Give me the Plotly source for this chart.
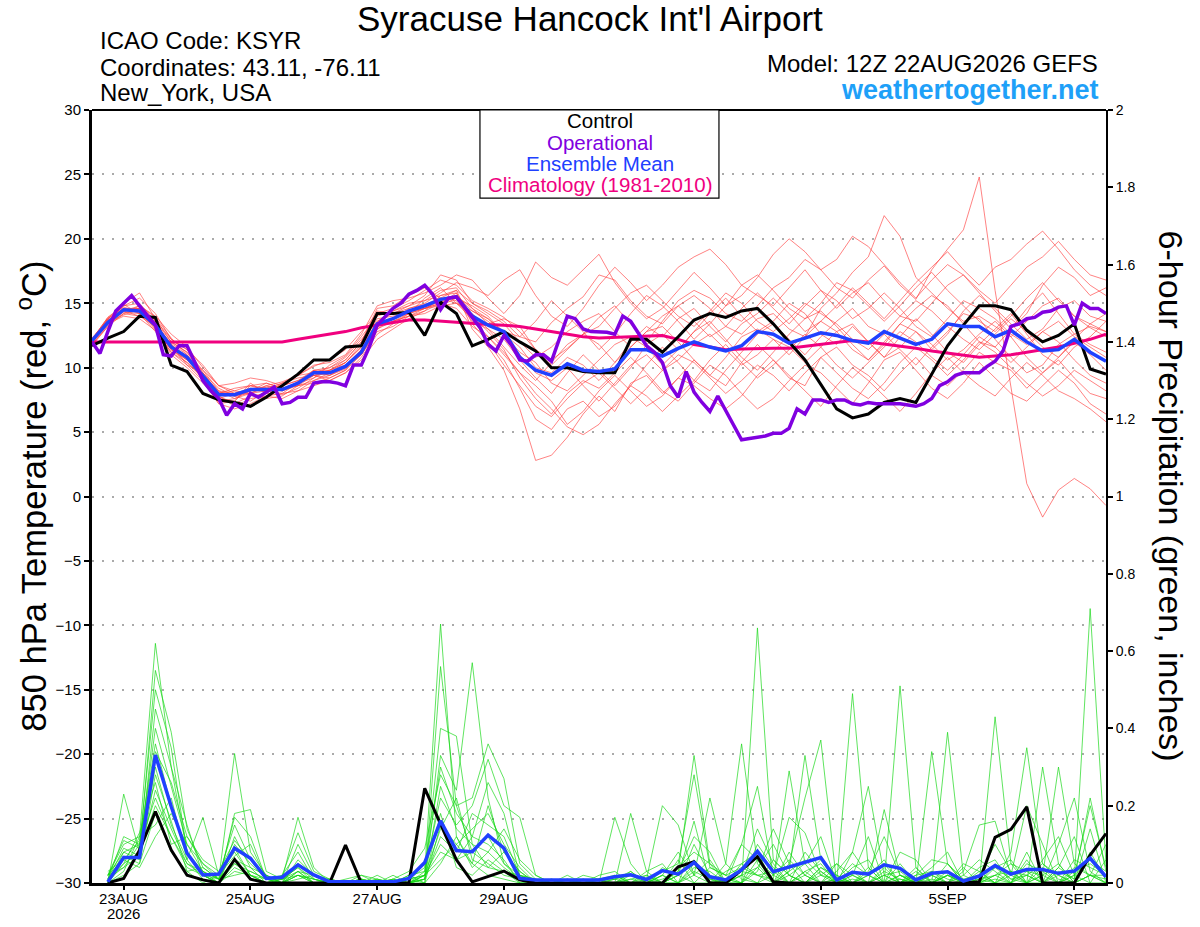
import pandas as pd
import plotly.graph_objects as go

# 6-hourly ensemble output, 3-hourly operational run
times = pd.date_range("2026-08-22 12:00", periods=65, freq="6h")
times_op = pd.date_range("2026-08-22 12:00", periods=129, freq="3h")
times_pcp = times[1:]

tick_dates = ["2026-08-23", "2026-08-25", "2026-08-27", "2026-08-29",
              "2026-09-01", "2026-09-03", "2026-09-05", "2026-09-07"]
tick_labels = ["23AUG", "25AUG", "27AUG", "29AUG", "1SEP", "3SEP", "5SEP", "7SEP"]
first_year = "2026"

temp_ticks = list(range(-30, 31, 5))
pcp_ticks = [0, 0.2, 0.4, 0.6, 0.8, 1.0, 1.2, 1.4, 1.6, 1.8, 2.0]
pcp_tick_labels = ["0", "0.2", "0.4", "0.6", "0.8", "1", "1.2", "1.4", "1.6", "1.8", "2"]

# 850 hPa temperature (C)
t_control = [11.7, 12.3, 12.8, 14.0, 13.9, 10.2, 9.7, 8.0,
             7.5, 7.3, 7.0, 7.7, 8.6, 9.5, 10.6, 10.6,
             11.6, 11.7, 14.2, 14.2, 14.3, 12.5, 15.1, 14.2,
             11.7, 12.2, 12.8, 12.0, 11.3, 10.0, 10.0, 9.7,
             9.6, 9.6, 12.2, 12.2, 11.2, 12.4, 13.7, 14.2,
             13.9, 14.4, 14.6, 13.4, 12.0, 10.6, 8.7, 6.8,
             6.1, 6.4, 7.3, 7.6, 7.3, 9.5, 11.7, 13.3,
             14.8, 14.8, 14.5, 12.9, 12.0, 12.5, 13.4, 9.9,
             9.5]

t_mean = [12.1, 13.5, 14.5, 14.4, 13.3, 11.6, 10.8, 9.4,
          7.9, 7.9, 8.3, 8.3, 8.3, 8.8, 9.6, 9.6,
          10.1, 11.2, 13.4, 13.8, 14.4, 14.8, 15.3, 15.5,
          14.0, 13.3, 12.8, 10.8, 9.8, 9.4, 10.3, 9.8,
          9.7, 9.9, 11.4, 11.4, 10.9, 11.5, 12.0, 11.6,
          11.3, 11.7, 12.8, 12.6, 11.9, 12.3, 12.7, 12.5,
          12.1, 11.9, 12.8, 12.3, 11.8, 12.2, 13.4, 13.2,
          13.2, 12.4, 12.9, 12.0, 11.3, 11.4, 12.2, 11.2,
          10.5]

t_clim = [12.0, 12.0, 12.0, 12.0, 12.0, 12.0, 12.0, 12.0,
          12.0, 12.0, 12.0, 12.0, 12.0, 12.2, 12.4, 12.6,
          12.8, 13.1, 13.3, 13.5, 13.7, 13.7, 13.6, 13.5,
          13.4, 13.35, 13.3, 13.2, 13.0, 12.8, 12.6, 12.4,
          12.3, 12.35, 12.4, 12.45, 12.5, 12.2, 11.8, 11.6,
          11.4, 11.45, 11.5, 11.5, 11.5, 11.65, 11.8, 12.0,
          12.1, 12.0, 11.85, 11.7, 11.5, 11.3, 11.15, 11.0,
          10.8, 10.9, 11.0, 11.2, 11.4, 11.6, 11.9, 12.2,
          12.6]

t_oper = [12.0, 11.1, 12.8, 14.4, 15.0, 15.6, 14.8, 14.0,
          13.3, 11.0, 10.9, 11.7, 11.7, 10.4, 9.0, 8.2,
          7.6, 6.3, 7.2, 6.8, 8.0, 7.7, 8.1, 8.5,
          7.2, 7.3, 7.7, 7.7, 8.8, 8.9, 8.9, 8.8,
          8.6, 10.2, 10.2, 11.6, 13.3, 14.0, 14.6, 15.0,
          15.7, 16.0, 16.4, 15.7, 14.5, 15.4, 15.5, 14.7,
          13.9, 13.1, 11.8, 11.3, 12.5, 11.7, 10.6, 10.5,
          11.0, 11.0, 10.5, 12.2, 14.0, 13.8, 13.0, 12.8,
          12.8, 12.75, 12.6, 14.0, 13.6, 12.6, 11.7, 11.2,
          10.4, 8.6, 7.7, 9.7, 8.1, 7.3, 6.6, 7.8,
          6.7, 5.5, 4.4, 4.5, 4.6, 4.7, 4.9, 4.9,
          5.3, 6.8, 6.4, 7.5, 7.5, 7.3, 7.5, 7.5,
          7.2, 7.1, 7.3, 7.2, 7.2, 7.2, 7.2, 7.1,
          7.0, 7.2, 7.6, 8.6, 8.9, 9.4, 9.6, 9.6,
          9.6, 10.1, 10.5, 11.3, 13.2, 13.4, 13.8, 13.9,
          14.3, 14.4, 14.7, 14.8, 13.3, 15.0, 14.6, 14.6,
          14.2]

# ensemble members (temperature)
t_m01 = [12.0, 13.5, 15.0, 15.8, 13.8, 12.0, 11.2, 9.8,
         8.2, 7.6, 8.0, 8.6, 8.9, 9.4, 10.1, 10.6,
         11.4, 12.8, 14.2, 14.6, 15.2, 16.0, 16.8, 16.4,
         15.2, 14.6, 13.9, 12.8, 11.4, 10.6, 11.5, 12.6,
         13.9, 14.8, 13.4, 12.0, 13.6, 15.2, 16.0, 15.4,
         14.2, 13.6, 14.8, 16.2, 17.0, 18.4, 17.6, 16.2,
         15.4, 16.8, 17.9, 16.4, 15.3, 17.6, 19.2, 20.7,
         24.8, 16.0, 8.5, 1.0, -1.6, 0.5, 1.4, 0.6,
         -0.7]
t_m02 = [11.8, 13.2, 14.2, 14.8, 13.9, 12.3, 11.0, 9.0,
         7.2, 7.4, 8.8, 8.0, 7.9, 8.4, 9.2, 10.2,
         10.9, 12.4, 14.0, 14.4, 14.8, 15.6, 17.2, 16.8,
         15.0, 14.4, 13.6, 12.4, 12.0, 13.5, 14.6, 15.5,
         17.2, 16.8, 15.2, 14.0, 13.4, 14.8, 15.6, 14.6,
         13.2, 12.6, 13.8, 14.2, 13.0, 12.4, 14.6, 15.8,
         17.4, 18.6, 21.8, 20.2, 17.0, 15.8, 14.6, 13.6,
         14.0, 13.2, 12.4, 13.6, 14.8, 15.4, 14.0, 13.1,
         12.4]
t_m03 = [12.2, 13.9, 14.9, 14.2, 12.8, 11.2, 10.4, 9.2,
         7.8, 7.0, 7.6, 7.8, 7.6, 8.2, 9.0, 9.4,
         10.2, 11.4, 13.2, 13.6, 14.0, 14.6, 15.0, 15.8,
         13.0, 11.6, 9.8, 6.8, 2.8, 3.2, 4.6, 6.4,
         7.8, 6.6, 8.8, 9.4, 8.0, 9.2, 10.6, 9.4,
         8.6, 10.4, 11.8, 10.6, 9.2, 8.6, 10.8, 11.6,
         10.2, 9.4, 8.2, 9.6, 10.8, 9.4, 8.6, 9.8,
         11.2, 10.4, 9.8, 8.4, 9.6, 10.6, 9.2, 8.0,
         7.6]
t_m04 = [11.9, 13.6, 14.4, 14.0, 13.4, 11.8, 10.2, 9.6,
         8.4, 7.8, 7.4, 8.2, 8.6, 9.0, 9.4, 9.0,
         9.6, 10.8, 12.6, 13.4, 14.2, 15.4, 16.2, 15.0,
         13.8, 12.0, 10.6, 8.4, 6.0, 5.2, 6.8, 7.4,
         6.2, 7.0, 8.6, 10.2, 11.6, 10.4, 9.0, 8.2,
         9.8, 11.2, 12.6, 13.4, 12.2, 11.0, 12.4, 13.6,
         14.6, 13.2, 12.6, 11.4, 10.2, 11.6, 12.8, 14.2,
         13.8, 12.2, 10.8, 9.6, 10.2, 11.8, 12.6, 13.2,
         12.8]
t_m05 = [12.0, 13.8, 14.8, 15.4, 14.2, 12.2, 11.4, 9.6,
         8.0, 8.4, 8.6, 8.4, 8.2, 8.6, 9.8, 10.0,
         10.6, 12.0, 14.4, 14.2, 14.6, 15.0, 15.8, 16.6,
         16.2, 15.6, 16.8, 17.6, 15.6, 14.0, 13.2, 14.6,
         16.4, 17.8, 16.6, 15.2, 16.4, 17.8, 18.6, 19.2,
         18.0, 16.4, 15.6, 14.8, 16.2, 17.6, 16.0, 14.6,
         15.8, 16.6, 15.2, 14.0, 13.6, 15.0, 16.4, 17.2,
         15.8, 14.4, 13.0, 14.2, 16.4, 17.8, 17.0, 15.6,
         16.2]
t_m06 = [12.1, 13.4, 14.0, 13.8, 12.9, 11.4, 10.6, 9.8,
         8.6, 8.2, 8.0, 7.6, 7.8, 8.6, 8.8, 9.2,
         9.8, 11.0, 12.8, 13.2, 14.0, 14.2, 14.8, 15.0,
         14.4, 13.8, 12.6, 11.2, 10.4, 8.8, 8.2, 9.4,
         10.6, 11.8, 12.4, 11.6, 10.2, 11.4, 12.8, 13.6,
         12.2, 10.8, 9.8, 11.2, 12.6, 13.8, 14.4, 13.2,
         11.8, 10.6, 11.8, 13.4, 14.6, 15.6, 14.8, 13.4,
         12.0, 11.6, 13.0, 14.6, 15.8, 14.2, 12.6, 11.8,
         11.2]
t_m07 = [12.3, 13.7, 14.5, 14.6, 13.1, 11.0, 10.0, 8.8,
         7.4, 7.6, 8.2, 8.8, 8.4, 8.8, 9.6, 9.8,
         10.4, 11.6, 13.6, 14.4, 15.0, 15.2, 15.6, 15.8,
         14.0, 12.8, 11.4, 9.2, 7.6, 6.4, 8.0, 9.0,
         8.4, 9.6, 10.8, 9.6, 8.2, 7.4, 8.8, 10.2,
         9.4, 8.0, 6.8, 7.6, 9.0, 10.2, 9.6, 8.4,
         7.2, 8.8, 10.6, 11.2, 9.8, 8.4, 7.6, 8.8,
         10.4, 9.2, 8.0, 7.4, 8.6, 9.8, 8.8, 7.2,
         6.4]
t_m08 = [12.0, 13.6, 14.3, 14.2, 13.6, 12.0, 11.2, 9.4,
         7.8, 7.2, 7.8, 8.0, 8.8, 9.2, 9.4, 9.2,
         9.8, 11.4, 13.4, 13.8, 14.6, 14.9, 15.4, 15.2,
         13.6, 13.0, 12.2, 10.6, 9.2, 8.0, 9.6, 11.0,
         9.8, 8.6, 10.0, 11.8, 12.6, 11.4, 12.8, 14.2,
         15.4, 14.0, 12.8, 13.6, 15.0, 14.2, 12.6, 11.8,
         13.2, 12.0, 10.8, 12.4, 13.8, 12.6, 11.2, 10.4,
         11.8, 13.0, 14.2, 12.6, 11.0, 10.2, 11.6, 12.4,
         13.6]
t_m09 = [11.7, 13.2, 14.4, 14.8, 14.0, 12.6, 11.6, 10.0,
         8.6, 8.8, 9.2, 9.0, 8.6, 9.4, 10.2, 10.4,
         11.0, 12.6, 14.8, 15.2, 15.4, 15.8, 16.4, 17.2,
         16.8, 15.4, 14.2, 15.6, 18.2, 17.0, 16.4, 17.6,
         18.8, 16.6, 15.0, 13.8, 14.6, 16.0, 17.4, 16.2,
         14.8, 15.6, 17.0, 18.8, 20.0, 19.0, 17.6, 18.4,
         20.2, 19.4, 18.0, 16.6, 15.4, 16.8, 18.0, 17.2,
         16.0, 15.0, 16.4, 17.8, 18.6, 19.8, 18.4, 17.2,
         16.8]
t_m10 = [12.2, 13.9, 14.7, 14.3, 13.0, 11.4, 10.4, 9.2,
         7.6, 8.0, 8.4, 8.4, 8.2, 8.9, 9.8, 9.8,
         10.2, 11.0, 13.0, 13.8, 14.4, 14.6, 15.2, 15.6,
         14.6, 13.4, 13.8, 13.2, 11.4, 10.2, 11.4, 12.6,
         11.8, 10.4, 11.6, 12.8, 13.2, 12.0, 10.6, 9.4,
         10.8, 12.4, 13.0, 12.2, 11.0, 12.4, 13.6, 12.8,
         11.4, 10.6, 12.0, 13.4, 12.8, 11.4, 12.6, 14.4,
         15.6, 14.6, 13.4, 12.2, 13.0, 14.6, 15.2, 14.0,
         13.6]
t_m11 = [11.9, 13.4, 14.2, 14.0, 13.2, 11.6, 10.8, 9.0,
         7.2, 6.8, 7.2, 7.8, 8.0, 8.2, 8.6, 9.0,
         9.6, 10.6, 12.2, 13.0, 13.8, 14.4, 15.0, 14.6,
         13.2, 12.4, 11.0, 9.6, 8.6, 7.4, 5.6, 6.6,
         8.2, 9.4, 8.2, 7.0, 7.8, 9.2, 8.6, 7.6,
         6.8, 7.8, 9.4, 10.6, 9.4, 8.2, 7.0, 8.6,
         10.0, 9.0, 7.8, 6.6, 8.0, 9.6, 10.8, 9.6,
         8.6, 7.8, 9.2, 10.4, 9.4, 8.2, 7.6, 6.8,
         5.8]
t_m12 = [12.1, 13.8, 14.6, 14.6, 13.5, 11.8, 10.8, 9.4,
         8.0, 8.2, 8.6, 8.8, 8.4, 8.6, 9.0, 9.6,
         10.4, 11.8, 13.8, 14.0, 14.2, 14.8, 15.4, 16.0,
         15.0, 14.2, 13.4, 12.0, 10.8, 11.6, 12.8, 13.6,
         14.2, 12.8, 11.6, 12.8, 14.0, 14.8, 13.6, 12.4,
         13.2, 14.6, 15.8, 14.6, 13.4, 14.8, 16.0, 15.2,
         13.8, 14.6, 15.8, 14.6, 13.2, 12.4, 13.8, 15.2,
         14.6, 13.8, 12.6, 11.8, 12.8, 13.6, 12.4, 11.6,
         10.8]
t_m13 = [12.0, 13.6, 14.5, 14.4, 13.3, 11.9, 11.0, 9.6,
         8.1, 7.8, 8.0, 8.5, 8.6, 9.0, 9.8, 9.4,
         9.9, 11.2, 13.2, 13.6, 14.2, 14.6, 15.0, 15.6,
         14.4, 13.6, 12.6, 11.0, 9.6, 9.0, 10.0, 8.6,
         7.4, 8.8, 10.2, 11.0, 9.8, 10.6, 11.8, 12.6,
         11.4, 10.2, 11.0, 12.2, 11.6, 10.4, 11.6, 12.8,
         13.4, 12.0, 10.8, 11.6, 12.8, 11.8, 10.6, 11.4,
         12.6, 13.6, 12.4, 10.8, 9.6, 10.8, 12.0, 11.0,
         9.8]
t_m14 = [12.2, 13.5, 14.1, 14.5, 13.7, 12.2, 11.4, 10.2,
         8.6, 8.0, 8.2, 8.4, 8.8, 9.4, 9.6, 10.0,
         10.8, 12.2, 13.6, 14.2, 14.8, 15.2, 16.0, 16.2,
         14.6, 13.8, 12.8, 12.4, 13.6, 15.2, 14.0, 12.8,
         11.4, 12.6, 14.2, 15.6, 14.8, 13.6, 12.2, 13.4,
         14.8, 16.4, 17.2, 16.0, 14.6, 13.8, 15.0, 16.6,
         16.0, 14.8, 13.6, 14.8, 16.2, 17.4, 16.0, 14.8,
         13.6, 12.8, 14.0, 15.4, 16.6, 15.2, 14.0, 13.4,
         14.2]
t_m15 = [12.1, 13.6, 14.8, 15.0, 13.6, 11.6, 10.6, 9.2,
         7.6, 7.4, 8.6, 8.2, 8.0, 8.8, 9.2, 9.8,
         10.6, 12.0, 14.6, 14.8, 15.6, 16.2, 15.4, 15.0,
         14.2, 13.0, 11.6, 10.2, 9.0, 10.4, 11.8, 12.6,
         13.2, 14.6, 15.8, 16.4, 15.2, 14.0, 13.2, 14.4,
         15.8, 15.0, 13.6, 12.8, 13.8, 15.0, 14.2, 13.4,
         12.2, 11.4, 12.6, 14.0, 15.2, 14.4, 13.2, 12.2,
         11.4, 12.6, 13.8, 12.8, 11.6, 10.8, 12.2, 13.4,
         12.8]
t_m16 = [11.8, 13.3, 14.6, 14.4, 13.0, 11.2, 10.2, 9.0,
         7.8, 8.0, 8.2, 8.6, 8.2, 8.8, 9.4, 9.6,
         10.0, 11.0, 13.0, 13.6, 14.0, 14.4, 15.6, 16.0,
         13.4, 12.0, 10.2, 8.6, 7.0, 6.2, 7.6, 8.8,
         9.6, 8.4, 7.2, 8.4, 9.8, 11.0, 10.4, 9.2,
         8.0, 9.0, 10.2, 9.4, 8.2, 9.6, 10.8, 9.6,
         8.4, 7.6, 8.8, 10.4, 11.6, 10.6, 9.4, 10.6,
         12.0, 11.2, 10.0, 8.8, 7.8, 8.6, 9.8, 9.0,
         8.2]
t_m17 = [12.0, 13.7, 14.4, 14.6, 13.4, 11.7, 10.9, 9.5,
         8.0, 7.8, 8.2, 8.2, 8.4, 8.8, 9.6, 9.4,
         10.0, 11.4, 13.2, 13.8, 14.4, 14.6, 14.8, 15.4,
         14.8, 14.0, 12.6, 11.6, 10.0, 9.6, 10.8, 10.2,
         9.0, 10.4, 12.0, 13.2, 12.4, 13.8, 14.6, 13.2,
         12.0, 13.4, 14.2, 15.4, 14.2, 12.8, 13.6, 14.8,
         16.2, 15.0, 13.8, 15.2, 16.6, 17.8, 19.0, 17.6,
         16.4, 17.8, 18.4, 19.6, 20.6, 19.2, 17.6, 16.4,
         15.6]
t_m18 = [12.2, 13.8, 14.6, 14.2, 13.2, 11.4, 10.6, 9.4,
         8.2, 8.0, 8.0, 8.2, 8.4, 8.6, 9.4, 9.8,
         10.4, 11.6, 13.4, 13.8, 14.2, 14.6, 15.2, 15.4,
         13.8, 12.4, 11.2, 9.6, 8.0, 6.8, 5.4, 4.8,
         5.6, 7.2, 8.6, 7.8, 6.6, 7.8, 9.0, 10.6,
         11.8, 10.4, 9.2, 10.2, 11.4, 12.6, 11.6, 10.2,
         9.2, 10.4, 11.6, 12.8, 12.0, 10.8, 9.8, 11.0,
         12.4, 11.6, 10.4, 11.6, 12.8, 12.0, 10.6, 9.4,
         8.8]
temp_members = [t_m01, t_m02, t_m03, t_m04, t_m05, t_m06, t_m07, t_m08, t_m09,
                t_m10, t_m11, t_m12, t_m13, t_m14, t_m15, t_m16, t_m17, t_m18]

# 6-hour precipitation (inches), starting at the first 6 h step
p_control = [0.0, 0.012, 0.085, 0.185, 0.085, 0.02, 0.008, 0.0,
             0.061, 0.01, 0.0, 0.0, 0.0, 0.0, 0.0, 0.098,
             0.0, 0.0, 0.0, 0.0, 0.245, 0.154, 0.06, 0.003,
             0.016, 0.031, 0.008, 0.0, 0.0, 0.0, 0.0, 0.0,
             0.0, 0.0, 0.0, 0.0, 0.042, 0.055, 0.0, 0.0,
             0.034, 0.068, 0.003, 0.0, 0.0, 0.0, 0.0, 0.0,
             0.0, 0.0, 0.0, 0.0, 0.0, 0.0, 0.0, 0.003,
             0.118, 0.139, 0.197, 0.0, 0.0, 0.0, 0.072, 0.128]
p_mean = [0.003, 0.066, 0.066, 0.331, 0.198, 0.077, 0.021, 0.023,
          0.090, 0.064, 0.012, 0.015, 0.047, 0.021, 0.003, 0.003,
          0.003, 0.003, 0.003, 0.012, 0.053, 0.161, 0.084, 0.081,
          0.124, 0.090, 0.012, 0.008, 0.008, 0.006, 0.006, 0.008,
          0.016, 0.021, 0.009, 0.032, 0.023, 0.053, 0.016, 0.008,
          0.034, 0.082, 0.029, 0.042, 0.054, 0.066, 0.008, 0.028,
          0.023, 0.047, 0.038, 0.008, 0.025, 0.029, 0.005, 0.018,
          0.045, 0.023, 0.035, 0.035, 0.025, 0.031, 0.064, 0.016]

p_m01 = [0.02, 0.10, 0.12, 0.62, 0.30, 0.08, 0.02, 0.00,
         0.05, 0.02, 0.00, 0.01, 0.03, 0.00, 0.00, 0.00,
         0.01, 0.00, 0.00, 0.02, 0.03, 0.67, 0.12, 0.05,
         0.02, 0.01, 0.00, 0.00, 0.00, 0.00, 0.00, 0.00,
         0.00, 0.01, 0.00, 0.02, 0.00, 0.05, 0.01, 0.00,
         0.00, 0.66, 0.06, 0.02, 0.00, 0.04, 0.01, 0.00,
         0.02, 0.00, 0.01, 0.00, 0.00, 0.03, 0.00, 0.00,
         0.01, 0.00, 0.02, 0.00, 0.04, 0.01, 0.71, 0.05]
p_m02 = [0.00, 0.23, 0.08, 0.55, 0.39, 0.14, 0.04, 0.01,
         0.335, 0.08, 0.02, 0.00, 0.02, 0.01, 0.00, 0.00,
         0.00, 0.00, 0.01, 0.00, 0.00, 0.56, 0.20, 0.08,
         0.05, 0.02, 0.01, 0.00, 0.00, 0.00, 0.00, 0.01,
         0.02, 0.00, 0.00, 0.00, 0.03, 0.33, 0.05, 0.02,
         0.04, 0.02, 0.01, 0.29, 0.05, 0.00, 0.01, 0.00,
         0.00, 0.00, 0.51, 0.04, 0.00, 0.02, 0.00, 0.01,
         0.00, 0.02, 0.00, 0.30, 0.05, 0.00, 0.02, 0.00]
p_m03 = [0.01, 0.12, 0.10, 0.50, 0.35, 0.08, 0.03, 0.00,
         0.18, 0.19, 0.03, 0.01, 0.17, 0.04, 0.00, 0.00,
         0.01, 0.00, 0.00, 0.01, 0.02, 0.40, 0.38, 0.10,
         0.04, 0.03, 0.00, 0.00, 0.01, 0.00, 0.00, 0.00,
         0.00, 0.00, 0.02, 0.00, 0.00, 0.02, 0.22, 0.05,
         0.36, 0.05, 0.00, 0.03, 0.33, 0.06, 0.00, 0.49,
         0.04, 0.00, 0.02, 0.00, 0.34, 0.05, 0.00, 0.00,
         0.43, 0.05, 0.00, 0.02, 0.00, 0.03, 0.05, 0.02]
p_m04 = [0.00, 0.08, 0.06, 0.45, 0.30, 0.15, 0.02, 0.01,
         0.17, 0.12, 0.01, 0.02, 0.13, 0.03, 0.01, 0.00,
         0.00, 0.01, 0.00, 0.00, 0.01, 0.33, 0.24, 0.57,
         0.22, 0.05, 0.02, 0.00, 0.00, 0.01, 0.00, 0.00,
         0.17, 0.05, 0.00, 0.02, 0.00, 0.03, 0.01, 0.00,
         0.02, 0.14, 0.05, 0.00, 0.03, 0.00, 0.05, 0.02,
         0.00, 0.19, 0.02, 0.00, 0.01, 0.00, 0.00, 0.03,
         0.00, 0.08, 0.35, 0.05, 0.01, 0.00, 0.02, 0.10]
p_m05 = [0.02, 0.11, 0.09, 0.40, 0.25, 0.10, 0.05, 0.02,
         0.15, 0.06, 0.02, 0.00, 0.10, 0.02, 0.00, 0.01,
         0.02, 0.00, 0.01, 0.03, 0.09, 0.28, 0.20, 0.22,
         0.36, 0.27, 0.05, 0.01, 0.00, 0.00, 0.02, 0.01,
         0.00, 0.18, 0.03, 0.00, 0.02, 0.00, 0.00, 0.01,
         0.00, 0.03, 0.14, 0.05, 0.22, 0.37, 0.00, 0.02,
         0.00, 0.02, 0.00, 0.01, 0.00, 0.39, 0.02, 0.00,
         0.05, 0.01, 0.00, 0.00, 0.03, 0.01, 0.22, 0.03]
p_m06 = [0.03, 0.06, 0.11, 0.36, 0.20, 0.08, 0.02, 0.00,
         0.10, 0.05, 0.01, 0.01, 0.04, 0.00, 0.00, 0.00,
         0.00, 0.02, 0.00, 0.00, 0.03, 0.22, 0.15, 0.20,
         0.32, 0.20, 0.17, 0.02, 0.00, 0.00, 0.01, 0.00,
         0.01, 0.02, 0.01, 0.20, 0.15, 0.02, 0.00, 0.00,
         0.10, 0.25, 0.02, 0.17, 0.13, 0.02, 0.00, 0.08,
         0.25, 0.02, 0.00, 0.00, 0.02, 0.00, 0.03, 0.15,
         0.16, 0.02, 0.20, 0.10, 0.00, 0.02, 0.20, 0.04]
p_m07 = [0.01, 0.09, 0.07, 0.30, 0.15, 0.06, 0.17, 0.02,
         0.08, 0.02, 0.00, 0.00, 0.02, 0.01, 0.00, 0.00,
         0.01, 0.00, 0.00, 0.01, 0.00, 0.15, 0.10, 0.05,
         0.20, 0.08, 0.03, 0.00, 0.00, 0.02, 0.00, 0.00,
         0.00, 0.00, 0.00, 0.03, 0.05, 0.28, 0.04, 0.02,
         0.00, 0.04, 0.00, 0.02, 0.00, 0.03, 0.00, 0.02,
         0.12, 0.00, 0.08, 0.06, 0.00, 0.02, 0.00, 0.01,
         0.02, 0.00, 0.06, 0.00, 0.10, 0.22, 0.03, 0.00]
p_m08 = [0.00, 0.05, 0.13, 0.26, 0.10, 0.12, 0.05, 0.01,
         0.06, 0.04, 0.02, 0.00, 0.05, 0.02, 0.01, 0.00,
         0.00, 0.00, 0.02, 0.00, 0.01, 0.12, 0.08, 0.18,
         0.15, 0.12, 0.02, 0.01, 0.00, 0.00, 0.00, 0.02,
         0.03, 0.00, 0.00, 0.00, 0.02, 0.16, 0.00, 0.05,
         0.01, 0.00, 0.02, 0.06, 0.02, 0.00, 0.03, 0.08,
         0.02, 0.05, 0.00, 0.02, 0.06, 0.05, 0.00, 0.02,
         0.00, 0.03, 0.00, 0.04, 0.00, 0.02, 0.00, 0.00]
p_m09 = [0.02, 0.04, 0.10, 0.22, 0.12, 0.04, 0.02, 0.00,
         0.04, 0.02, 0.00, 0.01, 0.02, 0.00, 0.00, 0.00,
         0.02, 0.01, 0.00, 0.00, 0.02, 0.08, 0.06, 0.12,
         0.10, 0.06, 0.00, 0.00, 0.01, 0.00, 0.00, 0.00,
         0.00, 0.02, 0.00, 0.00, 0.00, 0.04, 0.03, 0.00,
         0.05, 0.08, 0.00, 0.03, 0.06, 0.02, 0.05, 0.00,
         0.03, 0.12, 0.02, 0.00, 0.02, 0.00, 0.05, 0.03,
         0.00, 0.00, 0.03, 0.02, 0.30, 0.05, 0.02, 0.01]
p_m10 = [0.01, 0.07, 0.05, 0.18, 0.08, 0.03, 0.04, 0.01,
         0.02, 0.03, 0.01, 0.00, 0.01, 0.02, 0.00, 0.00,
         0.00, 0.00, 0.00, 0.02, 0.00, 0.05, 0.12, 0.04,
         0.08, 0.04, 0.01, 0.00, 0.00, 0.00, 0.01, 0.00,
         0.00, 0.00, 0.03, 0.05, 0.00, 0.10, 0.02, 0.00,
         0.02, 0.00, 0.06, 0.02, 0.00, 0.04, 0.02, 0.00,
         0.02, 0.00, 0.00, 0.04, 0.00, 0.02, 0.00, 0.00,
         0.02, 0.03, 0.02, 0.00, 0.02, 0.00, 0.02, 0.00]
p_m11 = [0.00, 0.03, 0.12, 0.15, 0.22, 0.06, 0.01, 0.00,
         0.12, 0.04, 0.00, 0.02, 0.08, 0.01, 0.00, 0.00,
         0.00, 0.01, 0.00, 0.00, 0.01, 0.18, 0.04, 0.02,
         0.06, 0.03, 0.02, 0.00, 0.00, 0.01, 0.00, 0.01,
         0.01, 0.03, 0.00, 0.04, 0.02, 0.06, 0.00, 0.01,
         0.00, 0.06, 0.02, 0.00, 0.03, 0.05, 0.00, 0.01,
         0.00, 0.03, 0.01, 0.00, 0.03, 0.01, 0.00, 0.04,
         0.06, 0.00, 0.05, 0.03, 0.00, 0.06, 0.04, 0.02]
p_m12 = [0.02, 0.06, 0.04, 0.12, 0.18, 0.10, 0.03, 0.01,
         0.09, 0.02, 0.01, 0.00, 0.03, 0.00, 0.01, 0.00,
         0.01, 0.00, 0.00, 0.01, 0.02, 0.10, 0.06, 0.08,
         0.12, 0.05, 0.01, 0.00, 0.00, 0.00, 0.00, 0.00,
         0.00, 0.01, 0.02, 0.00, 0.04, 0.08, 0.05, 0.00,
         0.03, 0.02, 0.00, 0.05, 0.00, 0.02, 0.01, 0.03,
         0.00, 0.02, 0.03, 0.00, 0.00, 0.02, 0.01, 0.00,
         0.04, 0.01, 0.02, 0.05, 0.02, 0.00, 0.08, 0.01]
p_m13 = [0.01, 0.05, 0.08, 0.20, 0.12, 0.05, 0.02, 0.00,
         0.03, 0.02, 0.00, 0.00, 0.06, 0.02, 0.00, 0.00,
         0.00, 0.00, 0.00, 0.00, 0.02, 0.06, 0.10, 0.14,
         0.18, 0.10, 0.04, 0.00, 0.00, 0.00, 0.00, 0.00,
         0.02, 0.00, 0.00, 0.01, 0.03, 0.12, 0.08, 0.00,
         0.02, 0.04, 0.10, 0.02, 0.05, 0.12, 0.00, 0.04,
         0.06, 0.00, 0.02, 0.01, 0.04, 0.08, 0.00, 0.02,
         0.10, 0.03, 0.00, 0.06, 0.12, 0.02, 0.06, 0.03]
p_m14 = [0.00, 0.02, 0.05, 0.28, 0.16, 0.03, 0.00, 0.02,
         0.07, 0.10, 0.01, 0.00, 0.02, 0.00, 0.00, 0.00,
         0.00, 0.00, 0.00, 0.00, 0.01, 0.25, 0.14, 0.10,
         0.08, 0.14, 0.06, 0.02, 0.00, 0.00, 0.00, 0.00,
         0.00, 0.03, 0.00, 0.00, 0.06, 0.00, 0.04, 0.02,
         0.10, 0.06, 0.00, 0.08, 0.02, 0.00, 0.01, 0.05,
         0.02, 0.06, 0.00, 0.03, 0.00, 0.00, 0.02, 0.06,
         0.03, 0.00, 0.08, 0.00, 0.04, 0.12, 0.00, 0.06]
p_m15 = [0.02, 0.08, 0.10, 0.34, 0.26, 0.12, 0.06, 0.03,
         0.11, 0.06, 0.02, 0.00, 0.03, 0.02, 0.00, 0.00,
         0.00, 0.00, 0.00, 0.01, 0.04, 0.30, 0.18, 0.12,
         0.26, 0.18, 0.02, 0.01, 0.00, 0.00, 0.00, 0.00,
         0.00, 0.00, 0.00, 0.02, 0.08, 0.02, 0.06, 0.00,
         0.00, 0.10, 0.04, 0.00, 0.08, 0.03, 0.00, 0.00,
         0.04, 0.00, 0.05, 0.00, 0.00, 0.05, 0.01, 0.02,
         0.04, 0.06, 0.00, 0.02, 0.05, 0.00, 0.14, 0.00]
p_m16 = [0.01, 0.04, 0.07, 0.24, 0.14, 0.05, 0.03, 0.01,
         0.05, 0.03, 0.01, 0.01, 0.04, 0.01, 0.00, 0.00,
         0.00, 0.00, 0.01, 0.00, 0.02, 0.14, 0.22, 0.06,
         0.04, 0.08, 0.03, 0.00, 0.00, 0.00, 0.00, 0.00,
         0.01, 0.00, 0.01, 0.00, 0.02, 0.05, 0.00, 0.03,
         0.05, 0.02, 0.03, 0.00, 0.02, 0.06, 0.02, 0.00,
         0.00, 0.04, 0.00, 0.02, 0.03, 0.00, 0.04, 0.00,
         0.02, 0.05, 0.03, 0.00, 0.00, 0.04, 0.02, 0.02]
pcp_members = [p_m01, p_m02, p_m03, p_m04, p_m05, p_m06, p_m07, p_m08,
               p_m09, p_m10, p_m11, p_m12, p_m13, p_m14, p_m15, p_m16]

RED = "rgba(255,60,60,0.8)"
GREEN = "rgba(20,215,20,0.85)"
PURPLE = "#8000e0"
BLUE = "#2040ff"
PINK = "#f0007f"
FONT = "Liberation Sans, Arial, sans-serif"

fig = go.Figure()

for m in temp_members:
    fig.add_trace(go.Scatter(x=times, y=m, mode="lines",
                             line=dict(color=RED, width=0.8),
                             hoverinfo="skip", showlegend=False))

for p in pcp_members:
    fig.add_trace(go.Scatter(x=times_pcp, y=p, mode="lines", yaxis="y2",
                             line=dict(color=GREEN, width=0.8),
                             hoverinfo="skip", showlegend=False))

fig.add_trace(go.Scatter(x=times, y=t_clim, mode="lines", name="Climatology",
                         line=dict(color=PINK, width=3)))
fig.add_trace(go.Scatter(x=times, y=t_control, mode="lines", name="Control",
                         line=dict(color="black", width=3)))
fig.add_trace(go.Scatter(x=times, y=t_mean, mode="lines", name="Ensemble Mean",
                         line=dict(color=BLUE, width=3.5)))
fig.add_trace(go.Scatter(x=times_op, y=t_oper, mode="lines", name="Operational",
                         line=dict(color=PURPLE, width=3.5)))

fig.add_trace(go.Scatter(x=times_pcp, y=p_control, mode="lines", yaxis="y2",
                         line=dict(color="black", width=3), showlegend=False))
fig.add_trace(go.Scatter(x=times_pcp, y=p_mean, mode="lines", yaxis="y2",
                         line=dict(color=BLUE, width=3.5), showlegend=False))

# thinner top border, and the legend box hanging from it
fig.add_shape(type="line", xref="paper", yref="paper", x0=0, x1=1, y0=1, y1=1,
              line=dict(color="black", width=2), layer="above")
fig.add_shape(type="rect", xref="paper", yref="paper",
              x0=0.3826, x1=0.6183, y0=0.886, y1=1.0,
              line=dict(color="black", width=1.2), fillcolor="white", layer="above")

legend_rows = [("Control", "black", 0.9858), ("Operational", PURPLE, 0.9586),
               ("Ensemble Mean", BLUE, 0.9314), ("Climatology (1981-2010)", PINK, 0.903)]
annotations = []
for text, col, yy in legend_rows:
    annotations.append(dict(text=text, x=0.5005, y=yy, xref="paper", yref="paper",
                            xanchor="center", yanchor="middle", showarrow=False,
                            font=dict(size=20.5, color=col)))

annotations += [
    dict(text="Syracuse Hancock Int'l Airport", x=0.491, y=1.118, xref="paper", yref="paper",
         xanchor="center", yanchor="middle", showarrow=False, font=dict(size=35)),
    dict(text="ICAO Code: KSYR", x=0.006, y=1.090, xref="paper", yref="paper",
         xanchor="left", yanchor="middle", showarrow=False, font=dict(size=24)),
    dict(text="Coordinates: 43.11, -76.11", x=0.006, y=1.055, xref="paper", yref="paper",
         xanchor="left", yanchor="middle", showarrow=False, font=dict(size=24)),
    dict(text="New_York, USA", x=0.006, y=1.022, xref="paper", yref="paper",
         xanchor="left", yanchor="middle", showarrow=False, font=dict(size=24)),
    dict(text="Model: 12Z 22AUG2026 GEFS", x=0.994, y=1.060, xref="paper", yref="paper",
         xanchor="right", yanchor="middle", showarrow=False, font=dict(size=24)),
    dict(text="<b>weathertogether.net</b>", x=0.995, y=1.0255, xref="paper", yref="paper",
         xanchor="right", yanchor="middle", showarrow=False,
         font=dict(size=27, color="#1ea0f8")),
    dict(text="850 hPa Temperature (red, <sup>o</sup>C)", x=-0.060, y=0.5,
         xref="paper", yref="paper", xanchor="center", yanchor="middle",
         textangle=-90, showarrow=False, font=dict(size=34.5)),
    dict(text="6-hour Precipitation (green, inches)", x=1.065, y=0.5,
         xref="paper", yref="paper", xanchor="center", yanchor="middle",
         textangle=90, showarrow=False, font=dict(size=34)),
    # year under the first date tick
    dict(text=first_year, x=tick_dates[0], y=-0.040, xref="x", yref="paper",
         xanchor="center", yanchor="middle", showarrow=False, font=dict(size=15)),
]

fig.update_layout(
    width=1200, height=927,
    margin=dict(l=92, r=94, t=110, b=44, autoexpand=False),
    plot_bgcolor="white", paper_bgcolor="white",
    showlegend=False,
    font=dict(family=FONT, color="black"),
    annotations=annotations,
    xaxis=dict(range=[times[0], times[-1]], tickvals=tick_dates, ticktext=tick_labels,
               ticks="outside", ticklen=4, tickwidth=1.5, tickcolor="black",
               ticklabelstandoff=-4,
               showline=True, linecolor="black", linewidth=3,
               showgrid=False, zeroline=False, tickfont=dict(size=15), automargin=False),
    yaxis=dict(range=[-30, 30], tickvals=temp_ticks, ticks="outside", ticklen=5,
               tickwidth=1.5, tickcolor="black", showline=True, linecolor="black",
               linewidth=3, showgrid=True, gridcolor="#aaaaaa", griddash="2px,8px",
               gridwidth=1.5, zeroline=False, tickfont=dict(size=15), automargin=False),
    yaxis2=dict(range=[0, 2], overlaying="y", side="right", tickvals=pcp_ticks,
                ticktext=pcp_tick_labels, ticks="outside", ticklen=5, tickwidth=1.5,
                tickcolor="black", showline=True, linecolor="black", linewidth=2,
                showgrid=False, zeroline=False, tickfont=dict(size=14), automargin=False),
)

fig.write_html("out.html", config={"displayModeBar": False},
               post_script="document.body.style.margin='0';")
